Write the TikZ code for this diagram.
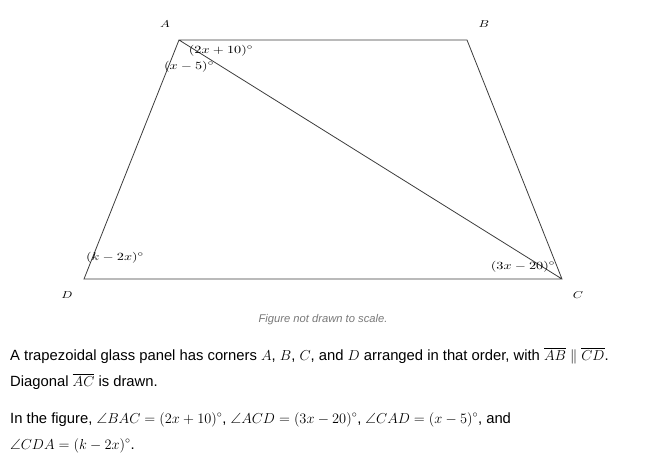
\documentclass[tikz,border=0pt]{standalone}
\usepackage{amsmath,amssymb}
\usepackage{fontspec}
\setmainfont{Liberation Sans}
\usepackage{tikz}
\definecolor{edgegray}{RGB}{60,60,60}
\definecolor{notegray}{RGB}{120,120,120}
\newcommand{\ang}[1]{\ensuremath{(#1)^\circ}}

\begin{document}
\begin{tikzpicture}[x=1pt,y=-1pt,
  vlabel/.style={font=\fontsize{10}{12}\selectfont,xscale=1.3},
  alabel/.style={font=\fontsize{11}{13}\selectfont,inner sep=0pt,xscale=1.3},
  textline/.style={anchor=base west,inner sep=0pt,font=\fontsize{14.8}{17}\selectfont}]
\useasboundingbox (0,0) rectangle (670,460);

  \coordinate (A) at (179,40);
  \coordinate (B) at (467,40);
  \coordinate (C) at (562,279);
  \coordinate (D) at (84,279);

  \node (lA) at (165,24) [vlabel] {$A$};
  \node (lB) at (484,24) [vlabel] {$B$};
  \node (lC) at (578,295) [vlabel] {$C$};
  \node (lD) at (67,295) [vlabel] {$D$};

  \draw [edgegray,line width=0.8pt] (A) to (B) to (C) to (D) to (A) to (C);

  \node (bac) at (221,51) [alabel] {$\ang{2x+10}$};
  \node (cad) at (189,67) [alabel] {$\ang{x-5}$};
  \node (cda) at (115,258) [alabel] {$\ang{k-2x}$};
  \node (acd) at (523,267) [alabel] {$\ang{3x-20}$};

  \node (note) at (323,320) [font=\fontsize{11.2}{13}\selectfont\itshape,text=notegray] {Figure not drawn to scale.};

  \node (t1) at (10,360) [textline] {A trapezoidal glass panel has corners $A$, $B$, $C$, and $D$ arranged in that order, with $\overline{AB}\parallel\overline{CD}$.};
  \node (t2) at (10,386) [textline] {Diagonal $\overline{AC}$ is drawn.};
  \node (t3) at (10,423) [textline] {In the figure, $\angle BAC=\ang{2x+10}$, $\angle ACD=\ang{3x-20}$, $\angle CAD=\ang{x-5}$, and};
  \node (t4) at (10,449) [textline] {$\angle CDA=\ang{k-2x}$.};

\end{tikzpicture}
\end{document}
